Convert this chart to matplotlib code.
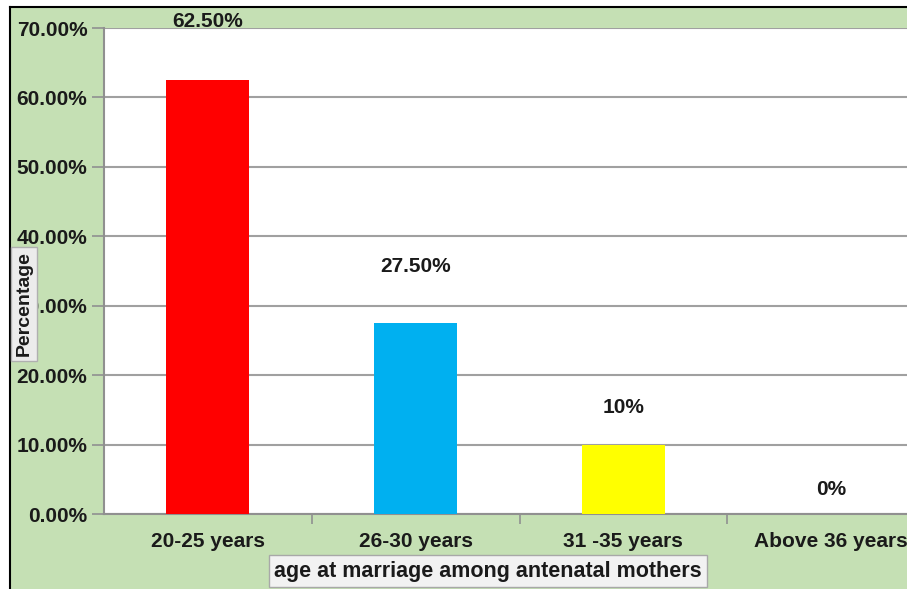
import matplotlib.pyplot as plt
from matplotlib.patches import Rectangle
from matplotlib.lines import Line2D

# age at marriage among antenatal mothers
groups = ['20-25 years', '26-30 years', '31 -35 years', 'Above 36 years']
share = [0.625, 0.275, 0.10, 0.0]
value_labels = ['62.50%', '27.50%', '10%', '0%']
label_lift = [0.084, 0.082, 0.053, 0.035]
bar_colors = ['#ff0000', '#00b0f0', '#ffff00', '#ffffff']
yticks = [0.0, 0.1, 0.2, 0.3, 0.4, 0.5, 0.6, 0.7]

plt.rcParams['font.family'] = ['Liberation Sans', 'DejaVu Sans']

W, H = 907, 589
fig = plt.figure(figsize=(W / 100, H / 100), dpi=100)
fig.patch.set_facecolor('white')

# green chart area with black frame on top and left
fig.patches.append(Rectangle((10 / W, 0), 1 - 10 / W, (H - 7) / H,
                             transform=fig.transFigure, facecolor='#c5e0b4',
                             edgecolor='none', zorder=-10))
fig.lines.append(Line2D([10 / W, 1], [(H - 7) / H] * 2, transform=fig.transFigure,
                        color='black', lw=1.5, zorder=-5))
fig.lines.append(Line2D([10 / W] * 2, [0, (H - 7) / H], transform=fig.transFigure,
                        color='black', lw=1.5, zorder=-5))

ax = fig.add_axes([104 / W, (H - 514) / H, 831 / W, 486 / H])
ax.set_facecolor('white')

x = range(len(groups))
ax.bar(x, share, width=0.4, color=bar_colors, zorder=3)
for i, (v, lab) in enumerate(zip(share, value_labels)):
    ax.text(i, v + label_lift[i], lab, ha='center', va='center',
            fontsize=15, fontweight='bold', color='#1a1a1a', zorder=4, clip_on=False)

ax.set_xlim(-0.5, 3.5)
ax.set_ylim(0, 0.7)
ax.set_yticks(yticks)
ax.set_yticklabels(['%.2f%%' % (t * 100) for t in yticks],
                   fontsize=15, fontweight='bold', color='#1a1a1a')
ax.yaxis.grid(True, color='#a0a0a0', lw=1.5, zorder=0)

ax.set_xticks(list(x))
ax.set_xticklabels(groups, fontsize=15, fontweight='bold', color='#1a1a1a')
ax.set_xticks([0.5, 1.5, 2.5], minor=True)
ax.tick_params(axis='x', which='major', length=0, pad=13)
ax.tick_params(axis='x', which='minor', length=7, color='#909090', width=1.2)
ax.tick_params(axis='y', length=9, color='#909090', width=1.2, pad=3)

for side in ['top', 'right']:
    ax.spines[side].set_visible(False)
for side in ['left', 'bottom']:
    ax.spines[side].set_color('#909090')
    ax.spines[side].set_linewidth(1.5)

# axis titles in boxes
fig.text(24 / W, 1 - 304 / H, 'Percentage', rotation=90, ha='center', va='center',
         fontsize=14, fontweight='bold', color='#1a1a1a', zorder=10,
         bbox=dict(boxstyle='square,pad=0.25', facecolor='#ececec', edgecolor='#b0b0b0'))
fig.text(488 / W, 1 - 571 / H, 'age at marriage among antenatal mothers',
         ha='center', va='center', fontsize=15.5, fontweight='bold', color='#1a1a1a',
         zorder=10,
         bbox=dict(boxstyle='square,pad=0.25', facecolor='#f2f2f2', edgecolor='#a8a8a8'))

fig.savefig('out.png', dpi=100)
